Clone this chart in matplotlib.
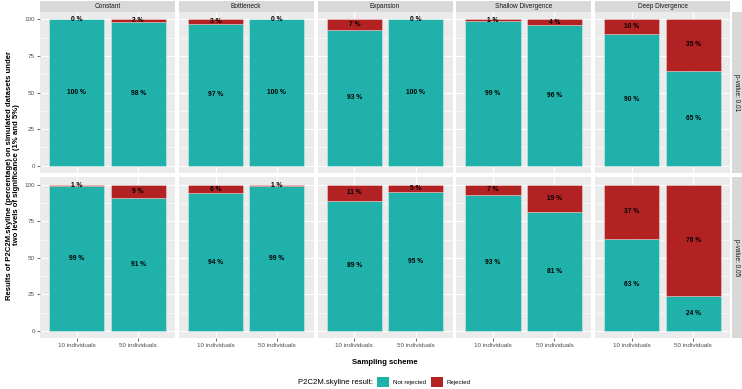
import numpy as np
import matplotlib.pyplot as plt
from matplotlib.patches import Patch

plt.rcParams["font.family"] = ["Liberation Sans", "DejaVu Sans"]

SCENARIOS = ["Constant", "Bottleneck", "Expansion", "Shallow Divergence", "Deep Divergence"]
SAMPLING = ["10 individuals", "50 individuals"]
PVALUES = ["p-value: 0.01", "p-value: 0.05"]

# percentage of "Not rejected" per scenario, [10 ind, 50 ind]
not_rejected_001 = [[100, 98], [97, 100], [93, 100], [99, 96], [90, 65]]
not_rejected_005 = [[99, 91], [94, 99], [89, 95], [93, 81], [63, 24]]
rejected_001 = [[0, 2], [3, 0], [7, 0], [1, 4], [10, 35]]
rejected_005 = [[1, 9], [6, 1], [11, 5], [7, 19], [37, 76]]

TEAL, RED = "#20B2AA", "#B22222"
W, H = 742, 389


def rect(x0, y0, x1, y1):
    return [x0 / W, 1 - y1 / H, (x1 - x0) / W, (y1 - y0) / H]


fig = plt.figure(figsize=(W / 100, H / 100), dpi=100)
fig.patch.set_facecolor("white")

col_x = [40, 178.7, 317.5, 456.2, 595]
pw = 135
rows = [(12, 173), (177.3, 338.3)]
data = [(not_rejected_001, rejected_001), (not_rejected_005, rejected_005)]

for r, (y0, y1) in enumerate(rows):
    nr, rj = data[r]
    for c, name in enumerate(SCENARIOS):
        x0 = col_x[c]
        ax = fig.add_axes(rect(x0, y0, x0 + pw, y1))
        ax.set_facecolor("#EBEBEB")
        xs = np.arange(len(SAMPLING))
        a = np.array(nr[c]); b = np.array(rj[c])
        ax.bar(xs, a, width=0.9, color=TEAL, edgecolor=(1, 1, 1, 0.45), lw=0.5, zorder=3)
        ax.bar(xs, b, bottom=a, width=0.9, color=RED, edgecolor=(1, 1, 1, 0.45), lw=0.5, zorder=3)
        for i in range(len(xs)):
            ax.text(xs[i], a[i] / 2, f"{a[i]} %", ha="center", va="center",
                    fontsize=4.8, fontweight="bold", color="black", zorder=4)
            ax.text(xs[i], a[i] + b[i] / 2, f"{b[i]} %", ha="center", va="center",
                    fontsize=4.8, fontweight="bold", color="black", zorder=4)
        ax.set_xlim(-0.6, 1.6)
        ax.set_ylim(-5, 105)
        ax.set_yticks([0, 25, 50, 75, 100])
        ax.set_yticks([12.5, 37.5, 62.5, 87.5], minor=True)
        ax.set_xticks(xs)
        ax.grid(True, which="major", color="white", lw=0.8, zorder=0)
        ax.grid(True, which="minor", axis="y", color="white", lw=0.4, zorder=0)
        ax.set_axisbelow(True)
        for s in ax.spines.values():
            s.set_visible(False)
        ax.tick_params(which="major", length=2, width=0.5, color="#333333",
                       labelsize=4.5, labelcolor="#4D4D4D", pad=1.5)
        ax.tick_params(which="minor", length=0)
        if r == 1:
            ax.set_xticklabels(SAMPLING)
        else:
            ax.set_xticklabels([])
            ax.tick_params(axis="x", length=0)
        if c == 0:
            ax.set_yticklabels(["0", "25", "50", "75", "100"])
        else:
            ax.set_yticklabels([])
            ax.tick_params(axis="y", length=0)
        if r == 0:
            sax = fig.add_axes(rect(x0, 0.5, x0 + pw, y0))
            sax.set_facecolor("#D9D9D9")
            sax.set_xticks([]); sax.set_yticks([])
            for s in sax.spines.values():
                s.set_visible(False)
            sax.text(0.5, 0.5, name, ha="center", va="center", fontsize=4.7,
                     color="#1A1A1A", transform=sax.transAxes)
    rax = fig.add_axes(rect(731.5, y0, 742, y1))
    rax.set_facecolor("#D9D9D9")
    rax.set_xticks([]); rax.set_yticks([])
    for s in rax.spines.values():
        s.set_visible(False)
    rax.text(0.5, 0.5, PVALUES[r], ha="center", va="center", rotation=-90,
             fontsize=4.7, color="#1A1A1A", transform=rax.transAxes)

fig.text(13 / W, 1 - 175 / H,
         "Results of P2C2M.skyline (percentage) on simulated datasets under\n"
         "two levels of significance (1% and 5%)",
         rotation=90, ha="center", va="center", fontsize=5.6, fontweight="bold",
         multialignment="center", linespacing=1.1)
fig.text(385 / W, 1 - 362 / H, "Sampling scheme", ha="center", va="center",
         fontsize=5.6, fontweight="bold")
fig.text(298 / W, 1 - 382 / H, "P2C2M.skyline result:", ha="left", va="center",
         fontsize=5.6)
handles = [Patch(facecolor=TEAL, edgecolor="none"), Patch(facecolor=RED, edgecolor="none")]
fig.legend(handles, ["Not rejected", "Rejected"], loc="center left",
           bbox_to_anchor=(377 / W, 1 - 382 / H), ncol=2, frameon=False,
           fontsize=4.4, handlelength=2.0, handleheight=2.0, handletextpad=0.6,
           columnspacing=0.8, borderpad=0, borderaxespad=0)

fig.savefig("out.png", dpi=100, facecolor="white")
